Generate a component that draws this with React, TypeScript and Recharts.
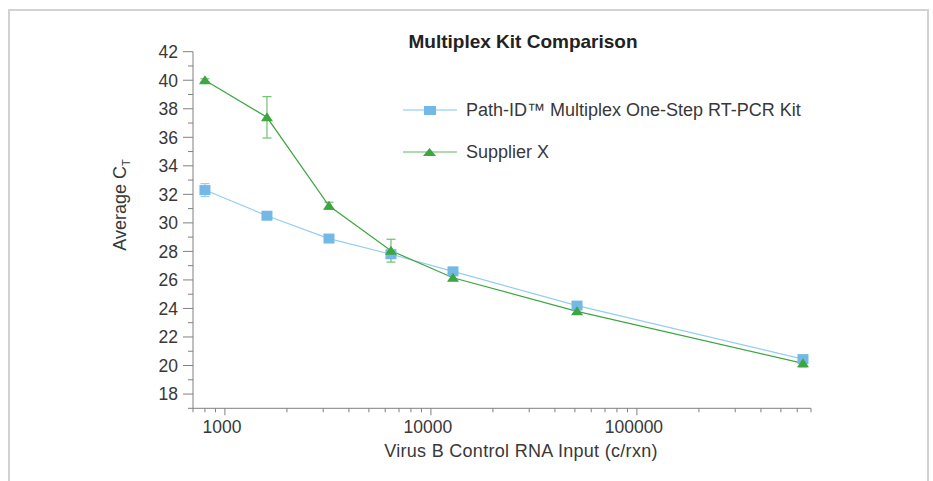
import React from "react";
import { LineChart, Line, XAxis, YAxis, ErrorBar } from "recharts";

// Virus B control RNA input (copies / reaction)
const inputs = [800, 1600, 3200, 6400, 12800, 51200, 640000];
const pathId = [32.3, 30.5, 28.9, 27.8, 26.6, 24.2, 20.45];
const pathIdErr = [0.45, 0.1, 0.1, 0.25, 0.15, 0.1, 0.15];
const supplierX = [40.0, 37.4, 31.2, 28.05, 26.15, 23.8, 20.15];
const supplierXErr = [0.1, 1.45, 0.25, 0.8, 0.2, 0.2, 0.25];

const xTicks = [
  700, 800, 900, 1000, 2000, 3000, 4000, 5000, 6000, 7000, 8000, 9000,
  10000, 20000, 30000, 40000, 50000, 60000, 70000, 80000, 90000,
  100000, 200000, 300000, 400000, 500000, 600000, 700000,
];
const xLabels = [1000, 10000, 100000];
const yTicks = [
  17, 18, 19, 20, 21, 22, 23, 24, 25, 26, 27, 28, 29, 30,
  31, 32, 33, 34, 35, 36, 37, 38, 39, 40, 41, 42,
];

const data = inputs.map((x, i) => ({
  x,
  pathId: pathId[i],
  pathIdErr: pathIdErr[i],
  supplierX: supplierX[i],
  supplierXErr: supplierXErr[i],
}));

const FONT = "'Liberation Sans', Arial, sans-serif";
const TXT = "#383838";
const AXIS = "#808080";
const BLUE = "#74b9e6";
const BLUE_LINE = "#94cdef";
const GREEN = "#3ea640";
const GREEN_ERR = "#72c072";

const YTick = (p: any) => {
  const { x, y, payload } = p;
  const major = payload.value % 2 === 0;
  return (
    <g>
      <line x1={x} x2={x - (major ? 10 : 5)} y1={y} y2={y} stroke={AXIS} />
      {major && (
        <text x={x - 15} y={y} dy="0.36em" textAnchor="end" fontSize={17.5} fill={TXT} fontFamily={FONT}>
          {payload.value}
        </text>
      )}
    </g>
  );
};

const XTick = (p: any) => {
  const { x, y, payload } = p;
  const major = xLabels.includes(payload.value);
  return (
    <g>
      <line x1={x} x2={x} y1={y} y2={y + (major ? 7 : 4)} stroke={AXIS} />
      {major && (
        <text x={x - 3} y={y + 18} dy="0.36em" textAnchor="middle" fontSize={17.5} fill={TXT} fontFamily={FONT}>
          {payload.value}
        </text>
      )}
    </g>
  );
};

const Square = (p: any) => {
  const { cx, cy, key } = p;
  if (cx == null || cy == null) return <g key={key} />;
  return <rect key={key} x={cx - 5.5} y={cy - 5} width={11} height={10} fill={BLUE} />;
};

const Triangle = (p: any) => {
  const { cx, cy, key } = p;
  if (cx == null || cy == null) return <g key={key} />;
  return (
    <polygon key={key} points={`${cx - 6},${cy + 4} ${cx + 6},${cy + 4} ${cx},${cy - 5}`} fill={GREEN} />
  );
};

const legendItems = [
  { name: "Path-ID™ Multiplex One-Step RT-PCR Kit", line: "#a9d9f4", kind: "sq" },
  { name: "Supplier X", line: "#92d192", kind: "tri" },
];

export default function App() {
  return (
    <div style={{ position: "absolute", left: 0, top: 0, width: 933, height: 481, background: "#fff", overflow: "hidden" }}>
      <div style={{ position: "absolute", left: 8, top: 9, width: 917, height: 480, border: "2px solid #d2d2d2", borderBottom: "none" }} />
      <div style={{ position: "absolute", left: 0, width: 1046, top: 31, textAlign: "center", fontFamily: FONT, fontWeight: "bold", fontSize: 19, color: "#222" }}>
        Multiplex Kit Comparison
      </div>
      <LineChart
        width={933}
        height={481}
        data={data}
        margin={{ top: 51.7, right: 122, bottom: 32.7, left: 133 }}
        style={{ position: "absolute", left: 0, top: 0 }}
      >
        <XAxis
          dataKey="x"
          type="number"
          scale="log"
          domain={[700, 700000]}
          allowDataOverflow
          ticks={xTicks}
          interval={0}
          height={40}
          tickSize={0}
          tickMargin={0}
          tickLine={false}
          tick={<XTick />}
          axisLine={{ stroke: AXIS }}
        />
        <YAxis
          type="number"
          domain={[17, 42]}
          allowDataOverflow
          ticks={yTicks}
          interval={0}
          width={60}
          tickSize={0}
          tickMargin={0}
          tickLine={false}
          tick={<YTick />}
          axisLine={{ stroke: AXIS }}
        />
        <Line
          dataKey="pathId"
          type="linear"
          stroke={BLUE_LINE}
          strokeWidth={1.2}
          dot={Square}
          activeDot={false}
          isAnimationActive={false}
        >
          <ErrorBar dataKey="pathIdErr" width={4.5} stroke={BLUE_LINE} strokeWidth={1.2} direction="y" />
        </Line>
        <Line
          dataKey="supplierX"
          type="linear"
          stroke={GREEN}
          strokeWidth={1.2}
          dot={Triangle}
          activeDot={false}
          isAnimationActive={false}
        >
          <ErrorBar dataKey="supplierXErr" width={4.5} stroke={GREEN_ERR} strokeWidth={1.2} direction="y" />
        </Line>
      </LineChart>
      <div style={{ position: "absolute", left: 403, top: 99, fontFamily: FONT, fontSize: 18, color: TXT }}>
        {legendItems.map((it, i) => (
          <div key={i} style={{ display: "flex", alignItems: "center", height: 22, marginBottom: i === 0 ? 20 : 0 }}>
            <svg width={54} height={14} style={{ marginRight: 9 }}>
              <line x1={0} x2={54} y1={7} y2={7} stroke={it.line} strokeWidth={1.5} />
              {it.kind === "sq" ? (
                <rect x={21} y={3} width={12} height={9} fill={BLUE} />
              ) : (
                <polygon points="20,11 33,11 26.5,3" fill={GREEN} />
              )}
            </svg>
            <span>{it.name}</span>
          </div>
        ))}
      </div>
      <div
        style={{
          position: "absolute", left: 121, top: 205, transform: "translate(-50%, -50%) rotate(-90deg)",
          fontFamily: FONT, fontSize: 18, color: TXT, whiteSpace: "nowrap",
        }}
      >
        Average C<sub style={{ fontSize: 11 }}>T</sub>
      </div>
      <div style={{ position: "absolute", left: 0, width: 1042, top: 441, textAlign: "center", fontFamily: FONT, fontSize: 18, letterSpacing: 0.3, color: TXT }}>
        Virus B Control RNA Input (c/rxn)
      </div>
    </div>
  );
}
